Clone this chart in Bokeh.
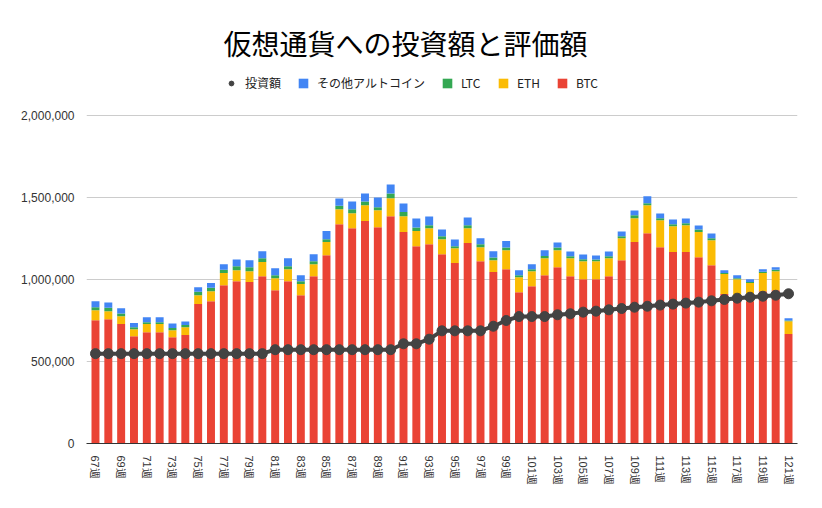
from bokeh.plotting import figure
from bokeh.models import (Legend, LegendItem, FixedTicker, NumeralTickFormatter,
                          ColumnDataSource, Range1d)
from bokeh.embed import file_html
from bokeh.resources import INLINE

weeks = list(range(67, 122))
week_labels = {w: f"{w}週" for w in weeks}
y_ticks = [0, 500000, 1000000, 1500000, 2000000]

btc = [752, 758, 728, 654, 679, 679, 648, 661, 850, 868, 965, 990, 984, 1020, 935, 990, 904, 1020, 1148,
       1337, 1313, 1356, 1319, 1386, 1289, 1203, 1215, 1154, 1100, 1222, 1112, 1045, 1063, 923, 959, 1026,
       1075, 1020, 1002, 1002, 1020, 1118, 1228, 1282, 1197, 1167, 1167, 1136, 1087, 911, 886, 868, 929, 935, 667]
eth = [61, 49, 48, 43, 49, 49, 43, 48, 54, 61, 74, 67, 67, 86, 73, 73, 68, 73, 80,
       92, 91, 97, 104, 110, 97, 92, 98, 92, 91, 91, 85, 73, 116, 91, 92, 104,
       104, 110, 110, 110, 110, 134, 146, 171, 165, 158, 164, 153, 153, 122, 116, 110, 110, 116, 79]
ltc = [18, 20, 17, 12, 12, 12, 14, 13, 21, 20, 20, 24, 24, 24, 18, 18, 18, 19, 18,
       20, 25, 23, 18, 28, 25, 22, 18, 18, 12, 18, 18, 16, 16, 12, 12, 13,
       16, 12, 12, 10, 12, 12, 18, 12, 12, 12, 12, 16, 12, 6, 6, 6, 8, 8, 4]
alt = [37, 33, 32, 25, 30, 30, 27, 22, 28, 29, 34, 41, 43, 43, 43, 49, 36, 42, 49,
       45, 46, 48, 59, 55, 52, 55, 53, 41, 41, 47, 37, 39, 39, 31, 30, 35,
       31, 29, 28, 24, 29, 29, 29, 43, 28, 29, 29, 24, 28, 18, 18, 18, 16, 16, 14]
invest = [548] * 14 + [572] * 10 + [608, 608, 636, 687, 687, 687, 687, 715, 750, 774, 774, 774,
                                    785, 791, 801, 807, 815, 823, 831, 837, 844, 850, 856, 862, 870,
                                    878, 886, 892, 898, 904, 913]

K = 1000
src = ColumnDataSource(dict(
    week=weeks,
    btc=[v * K for v in btc],
    eth=[v * K for v in eth],
    ltc=[v * K for v in ltc],
    alt=[v * K for v in alt],
    invest=[v * K for v in invest],
))

# frame extends above the top tick to host the legend row
p = figure(width=822, height=508, output_backend="svg", toolbar_location=None,
           x_range=Range1d(66.3, 121.7), y_range=Range1d(0, 2304878),
           min_border_left=86, min_border_right=25,
           min_border_bottom=65, min_border_top=65)
p.title.text = "仮想通貨への投資額と評価額"
p.title.align = "left"
p.title.text_font = "Noto Sans CJK JP"
p.title.text_font_size = "28px"
p.title.text_font_style = "normal"
p.title.text_color = "#000000"
p.title.standoff = 6
p.title.offset = 137
p.outline_line_color = None
p.background_fill_color = "white"
p.border_fill_color = "white"

colors = ["#ea4335", "#fbbc04", "#34a853", "#4285f4"]
stack_r = p.vbar_stack(["btc", "eth", "ltc", "alt"], x="week", width=0.62, source=src,
                       color=colors, line_color=None)
line_r = p.line("week", "invest", source=src, line_color="#434343", line_width=4)
pt_r = p.scatter("week", "invest", source=src, size=10, fill_color="#434343", line_color="#434343")

legend = Legend(items=[
    LegendItem(label="投資額", renderers=[pt_r]),
    LegendItem(label="その他アルトコイン", renderers=[stack_r[3]]),
    LegendItem(label="LTC", renderers=[stack_r[2]]),
    LegendItem(label="ETH", renderers=[stack_r[1]]),
    LegendItem(label="BTC", renderers=[stack_r[0]]),
], orientation="horizontal", location=(139, 352), border_line_color=None,
    label_text_font="Noto Sans CJK JP", label_text_font_size="12px", label_text_color="#222222",
    glyph_width=12, glyph_height=12, spacing=16, label_standoff=8, padding=4, margin=0,
    background_fill_alpha=0)
p.add_layout(legend, "center")

p.xgrid.grid_line_color = None
p.ygrid.grid_line_color = "#cccccc"
p.ygrid.ticker = FixedTicker(ticks=y_ticks)

p.yaxis.ticker = FixedTicker(ticks=y_ticks)
p.yaxis.formatter = NumeralTickFormatter(format="0,0")
p.yaxis.axis_line_color = None
p.yaxis.major_tick_line_color = None
p.yaxis.minor_tick_line_color = None
p.yaxis.major_label_text_font = "Liberation Sans"
p.yaxis.major_label_text_font_size = "12px"
p.yaxis.major_label_text_color = "#333333"
p.yaxis.major_label_standoff = 6

p.xaxis.ticker = FixedTicker(ticks=list(range(67, 122, 2)))
p.xaxis.major_label_overrides = week_labels
p.xaxis.major_label_orientation = "vertical"
p.xaxis.axis_line_color = "#333333"
p.xaxis.axis_line_width = 1
p.xaxis.major_tick_line_color = None
p.xaxis.minor_tick_line_color = None
p.xaxis.major_label_text_font = "Liberation Sans"
p.xaxis.major_label_text_font_size = "11px"
p.xaxis.major_label_text_color = "#333333"
p.xaxis.major_label_standoff = 6

open("out.html", "w").write(file_html(p, INLINE))
